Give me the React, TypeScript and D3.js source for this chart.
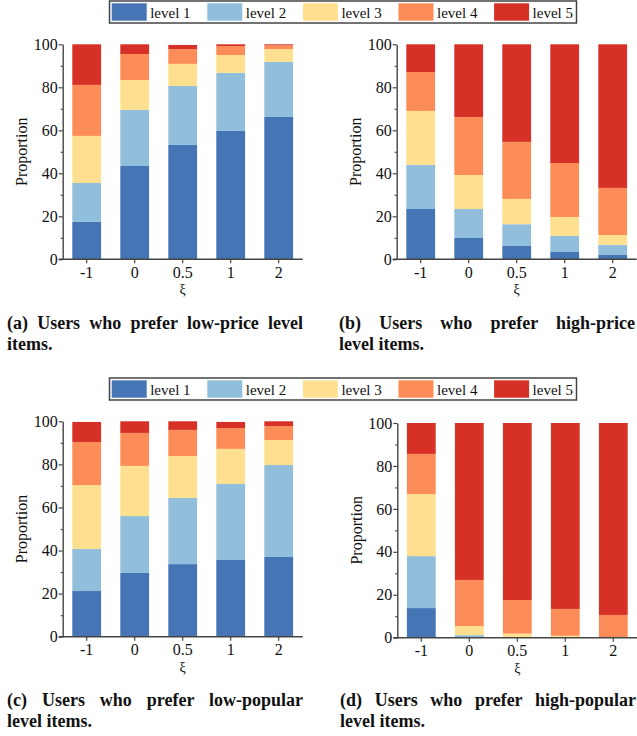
import React, { useEffect, useRef } from "react";
import * as d3 from "d3";

const categories = ["-1", "0", "0.5", "1", "2"];
const levels = ["level 1", "level 2", "level 3", "level 4", "level 5"];
const levelColors = ["#4575b4", "#91bfdb", "#fee090", "#fc8d59", "#d73027"];
const yTicks = [0, 20, 40, 60, 80, 100];
const yMinorTicks = [10, 30, 50, 70, 90];
const xTitle = "ξ";
const yTitle = "Proportion";

// rows = categories (-1, 0, 0.5, 1, 2); columns = level 1 .. level 5 (%)
const lowPrice = [
  [17.4, 18.1, 21.9, 23.7, 18.9],
  [43.4, 26.1, 13.9, 12.1, 4.5],
  [53.2, 27.4, 10.3, 6.9, 1.9],
  [59.7, 27.0, 8.3, 4.2, 0.8],
  [66.2, 25.6, 6.0, 1.7, 0.5],
];
const highPrice = [
  [23.4, 20.5, 25.1, 18.1, 12.9],
  [9.9, 13.5, 15.8, 27.0, 33.8],
  [6.2, 10.1, 11.8, 26.5, 45.4],
  [3.4, 7.5, 8.8, 25.1, 55.2],
  [2.0, 4.7, 4.6, 21.9, 66.8],
];
const lowPopular = [
  [21.2, 19.5, 29.7, 20.0, 9.3],
  [29.6, 26.4, 23.3, 15.3, 5.4],
  [33.7, 30.7, 19.5, 12.1, 4.0],
  [35.6, 35.3, 16.3, 9.7, 2.8],
  [37.0, 42.7, 11.6, 6.5, 2.2],
];
const highPopular = [
  [13.8, 24.2, 28.9, 18.7, 14.4],
  [0.3, 0.9, 4.2, 21.5, 73.1],
  [0.0, 0.2, 1.7, 15.6, 82.5],
  [0.0, 0.1, 0.8, 12.5, 86.6],
  [0.0, 0.0, 0.3, 10.3, 89.4],
];
const captionA = ["(a) Users who prefer low-price level", "items."];
const captionB = ["(b) Users who prefer high-price", "level items."];
const captionC = ["(c) Users who prefer low-popular", "level items."];
const captionD = ["(d) Users who prefer high-popular", "level items."];

const FONT = "Liberation Serif, DejaVu Serif, serif";
const AXIS = "#444";

export default function App() {
  const ref = useRef<SVGSVGElement>(null);

  useEffect(() => {
    const svg = d3.select(ref.current);
    svg.selectAll("*").remove();

    const panels = [
      { data: lowPrice, x0: 62.7, y100: 44.3, y0: 259.3, cap: captionA, cx: 7, cy: 329 },
      { data: highPrice, x0: 396.7, y100: 44.3, y0: 259.3, cap: captionB, cx: 339, cy: 329 },
      { data: lowPopular, x0: 62.7, y100: 421.3, y0: 636.7, cap: captionC, cx: 7, cy: 706 },
      { data: highPopular, x0: 397.3, y100: 423, y0: 637.7, cap: captionD, cx: 340, cy: 706 },
    ];

    // legends
    [0, 377].forEach((dy) => {
      const lg = svg.append("g").attr("transform", `translate(0,${dy})`);
      lg.append("rect")
        .attr("x", 109.5).attr("y", 1).attr("width", 467).attr("height", 22)
        .attr("fill", "white").attr("stroke", "#444").attr("stroke-width", 1.5);
      const lx = d3.scalePoint().domain(levels).range([111.7, 111.7 + 4 * 95.6]);
      levels.forEach((l, i) => {
        const x = lx(l)!;
        lg.append("rect").attr("x", x).attr("y", 3.3).attr("width", 35).attr("height", 17.4)
          .attr("fill", levelColors[i]);
        lg.append("text").attr("x", x + 38.5).attr("y", 17.5).text(l)
          .style("font-family", FONT).attr("font-size", 15).attr("fill", "#111");
      });
    });

    panels.forEach((p) => {
      const g = svg.append("g");
      const x = d3.scaleBand().domain(categories).range([p.x0, p.x0 + 240])
        .paddingInner(0.4).paddingOuter(0.2);
      const y = d3.scaleLinear().domain([0, 100]).range([p.y0, p.y100]);
      const rows = p.data.map((r, i) => {
        const o: any = { cat: categories[i] };
        levels.forEach((l, j) => (o[l] = r[j]));
        return o;
      });
      const series = d3.stack<any>().keys(levels)(rows);
      series.forEach((s, si) => {
        g.append("g").selectAll("rect").data(s).join("rect")
          .attr("x", (d) => x(d.data.cat)!)
          .attr("width", x.bandwidth())
          .attr("y", (d) => y(d[1]))
          .attr("height", (d) => Math.max(0, y(d[0]) - y(d[1])))
          .attr("fill", levelColors[si]);
      });

      // y axis
      const ya = g.append("g").attr("transform", `translate(${p.x0},0)`)
        .call(d3.axisLeft(y).tickValues(yTicks).tickSize(4).tickSizeOuter(0).tickPadding(1));
      ya.attr("font-family", null);
      ya.select(".domain").attr("stroke", AXIS).attr("stroke-width", 1.4);
      ya.selectAll(".tick line").attr("stroke", AXIS).attr("stroke-width", 1.2);
      ya.selectAll(".tick text").style("font-family", FONT).attr("font-size", 16).attr("fill", "#111");
      const ym = g.append("g").attr("transform", `translate(${p.x0},0)`)
        .call(d3.axisLeft(y).tickValues(yMinorTicks).tickSize(2).tickFormat(() => ""));
      ym.select(".domain").remove();
      ym.selectAll(".tick line").attr("stroke", AXIS).attr("stroke-width", 1.2);

      // x axis
      const xa = g.append("g").attr("transform", `translate(0,${p.y0})`)
        .call(d3.axisBottom(x).tickSize(4).tickSizeOuter(0).tickPadding(3));
      xa.attr("font-family", null);
      xa.select(".domain").remove();
      xa.append("line").attr("x1", p.x0 - 4).attr("x2", p.x0 + 240)
        .attr("stroke", AXIS).attr("stroke-width", 1.4);
      xa.selectAll(".tick line").attr("stroke", AXIS).attr("stroke-width", 1.2);
      xa.selectAll(".tick text").style("font-family", FONT).attr("font-size", 16).attr("fill", "#111");

      // titles
      g.append("text").attr("x", p.x0 + 120).attr("y", p.y0 + 35).attr("text-anchor", "middle")
        .style("font-family", FONT).attr("font-size", 14).attr("fill", "#111").text(xTitle);
      g.append("text")
        .attr("transform", `translate(${p.x0 - 35.5},${(p.y0 + p.y100) / 2}) rotate(-90)`)
        .attr("text-anchor", "middle").style("font-family", FONT).attr("font-size", 16)
        .attr("fill", "#111").text(yTitle);

      // caption (first line justified to the column width)
      const l1 = g.append("text").attr("x", p.cx).attr("y", p.cy)
        .style("font-family", FONT).attr("font-size", 18).attr("font-weight", "bold")
        .attr("fill", "#111").text(p.cap[0]);
      const node = l1.node() as SVGTextElement;
      const natural = node.getComputedTextLength();
      const spaces = p.cap[0].split(" ").length - 1;
      const extra = (296 - natural) / spaces;
      if (extra > 0) l1.attr("word-spacing", extra);
      g.append("text").attr("x", p.cx).attr("y", p.cy + 21)
        .style("font-family", FONT).attr("font-size", 18).attr("font-weight", "bold")
        .attr("fill", "#111").text(p.cap[1]);
    });
  }, []);

  return (
    <svg ref={ref} width={637} height={736}
      style={{ position: "absolute", left: 0, top: 0, display: "block", background: "white" }} />
  );
}
